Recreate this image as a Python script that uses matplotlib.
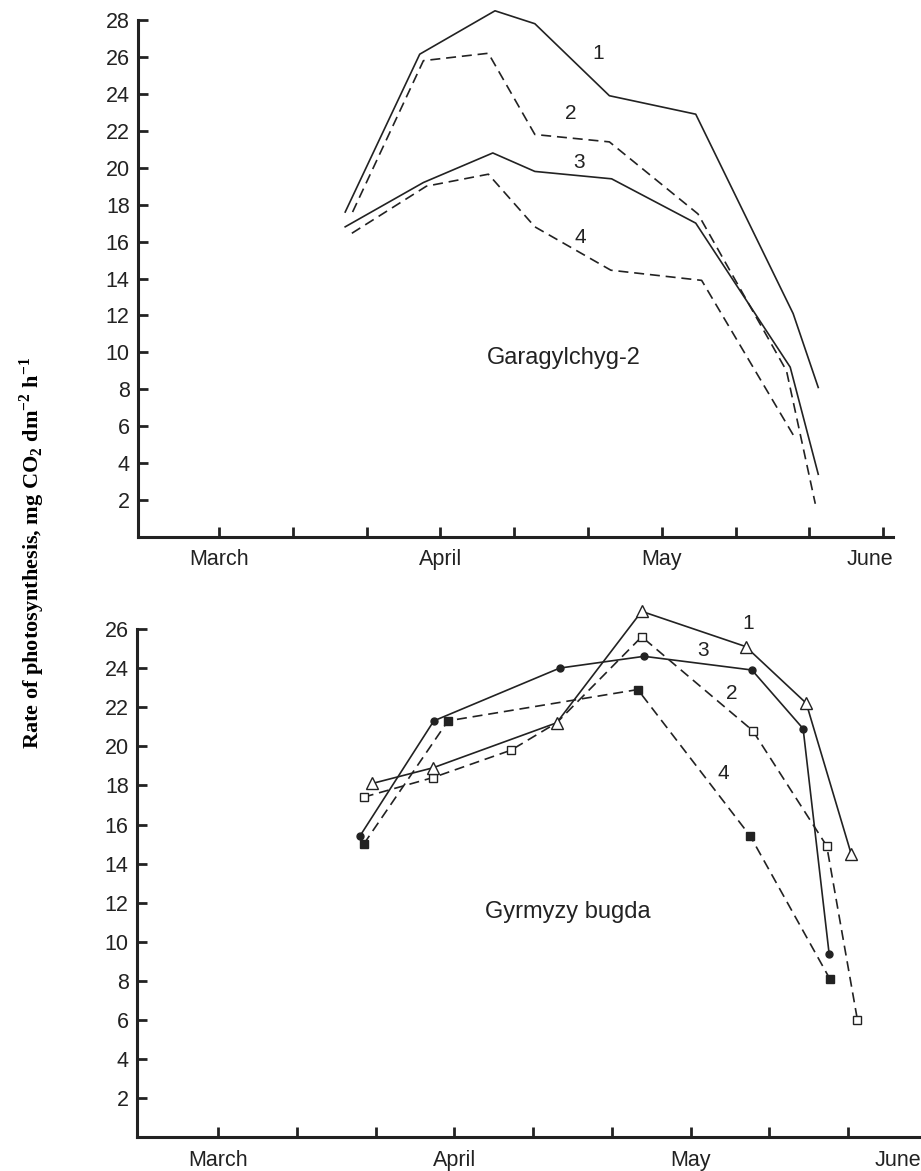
import matplotlib
matplotlib.use('Agg')
import matplotlib.pyplot as plt
import matplotlib.transforms as mtransforms

plt.rcParams['font.family'] = ['Liberation Sans', 'DejaVu Sans']
plt.rcParams['mathtext.fontset'] = 'custom'
plt.rcParams['mathtext.rm'] = 'Liberation Serif:bold'
plt.rcParams['mathtext.bf'] = 'Liberation Serif:bold'

# x in ten-day periods (decades) counted from 1 March
months = ['March', 'April', 'May', 'June']
month_pos = [0, 3, 6, 9]

# --- Garagylchyg-2 ---
g_x1 = [1.71, 2.72, 3.74, 4.28, 5.29, 6.46, 7.78, 8.12]
g_y1 = [17.6, 26.15, 28.5, 27.8, 23.9, 22.9, 12.1, 8.1]
g_x2 = [1.81, 2.77, 3.65, 4.28, 5.29, 6.49, 7.69, 8.08]
g_y2 = [17.6, 25.8, 26.2, 21.8, 21.4, 17.5, 9.0, 1.8]
g_x3 = [1.71, 2.77, 3.71, 4.28, 5.32, 6.46, 7.74, 8.12]
g_y3 = [16.8, 19.2, 20.8, 19.8, 19.4, 17.0, 9.2, 3.4]
g_x4 = [1.80, 2.81, 3.65, 4.28, 5.31, 6.54, 7.80]
g_y4 = [16.45, 19.0, 19.65, 16.8, 14.45, 13.9, 5.4]

# --- Gyrmyzy bugda ---
b_x1 = [1.96, 2.73, 4.30, 5.38, 6.70, 7.47, 8.04]
b_y1 = [18.1, 18.9, 21.2, 26.9, 25.1, 22.2, 14.5]
b_x2 = [1.85, 2.73, 3.72, 4.30, 5.38, 6.79, 7.73, 8.12]
b_y2 = [17.4, 18.4, 19.8, 21.2, 25.6, 20.8, 14.9, 6.0]
b_x3 = [1.80, 2.74, 4.34, 5.41, 6.78, 7.43, 7.76]
b_y3 = [15.4, 21.3, 24.0, 24.6, 23.9, 20.9, 9.4]
b_x4 = [1.85, 2.92, 5.33, 6.76, 7.77]
b_y4 = [15.0, 21.3, 22.9, 15.4, 8.1]

ink = '#222222'
dash = (0, (6, 3.5))

fig = plt.figure(figsize=(9.21, 11.71), dpi=100)
ax1 = fig.add_axes([0.1498, 0.5414, 0.8198, 0.4415])
ax2 = fig.add_axes([0.1488, 0.0287, 0.8512, 0.4342])


def style(ax, xlim, ymax):
    ax.set_xlim(*xlim)
    ax.set_ylim(0, ymax)
    for s in ['top', 'right']:
        ax.spines[s].set_visible(False)
    for s in ['left', 'bottom']:
        ax.spines[s].set_linewidth(2.2)
        ax.spines[s].set_color(ink)
    ax.set_yticks(range(2, ymax + 1, 2))
    ax.set_xticks([t for t in range(10) if xlim[0] <= t <= xlim[1]])
    ax.set_xticklabels([])
    ax.tick_params(direction='in', length=7, width=2, color=ink,
                   labelsize=15.5, labelcolor=ink, pad=6)
    trans = mtransforms.blended_transform_factory(ax.transData, ax.transAxes)
    for m, p in zip(months[:-1], month_pos[:-1]):
        ax.text(p, -0.024, m, transform=trans, ha='center', va='top',
                fontsize=15.5, color=ink)
    ax.text(1.0, -0.024, months[-1], transform=ax.transAxes, ha='right',
            va='top', fontsize=15.5, color=ink)


style(ax1, (-1.098, 9.133), 28)
style(ax2, (-1.029, 8.927), 26)

kw = dict(color=ink, lw=1.2, clip_on=False)
ax1.plot(g_x1, g_y1, **kw)
ax1.plot(g_x2, g_y2, ls=dash, **kw)
ax1.plot(g_x3, g_y3, **kw)
ax1.plot(g_x4, g_y4, ls=dash, **kw)

for t, x, y in [('1', 5.14, 26.2), ('2', 4.76, 22.95), ('3', 4.88, 20.3), ('4', 4.89, 16.2)]:
    ax1.text(x, y, t, ha='center', va='center', fontsize=15, color=ink)
ax1.text(4.67, 9.7, 'Garagylchyg-2', ha='center', va='center', fontsize=17, color=ink)

ax2.plot(b_x2, b_y2, ls=dash, marker='s', ms=5.5, mfc='white', mec=ink, mew=1,
         markevery=[0, 1, 2, 4, 5, 6, 7], **kw)
ax2.plot(b_x4, b_y4, ls=dash, marker='s', ms=5.5, mfc=ink, mec=ink, **kw)
ax2.plot(b_x3, b_y3, marker='o', ms=5, mfc=ink, mec=ink, **kw)
ax2.plot(b_x1, b_y1, marker='^', ms=8, mfc='white', mec=ink, mew=1, **kw)

for t, x, y in [('1', 6.73, 26.3), ('3', 6.16, 24.9), ('2', 6.52, 22.7), ('4', 6.42, 18.6)]:
    ax2.text(x, y, t, ha='center', va='center', fontsize=15, color=ink)
ax2.text(4.44, 11.55, 'Gyrmyzy bugda', ha='center', va='center', fontsize=17, color=ink)

fig.text(0.035, 0.528,
         r'Rate of photosynthesis, mg CO$_{\mathbf{2}}$ dm$^{\mathbf{-2}}$ h$^{\mathbf{-1}}$',
         rotation=90, ha='center', va='center', fontsize=16,
         family='Liberation Serif', weight='bold', color='black')

fig.savefig('out.png', dpi=100)
